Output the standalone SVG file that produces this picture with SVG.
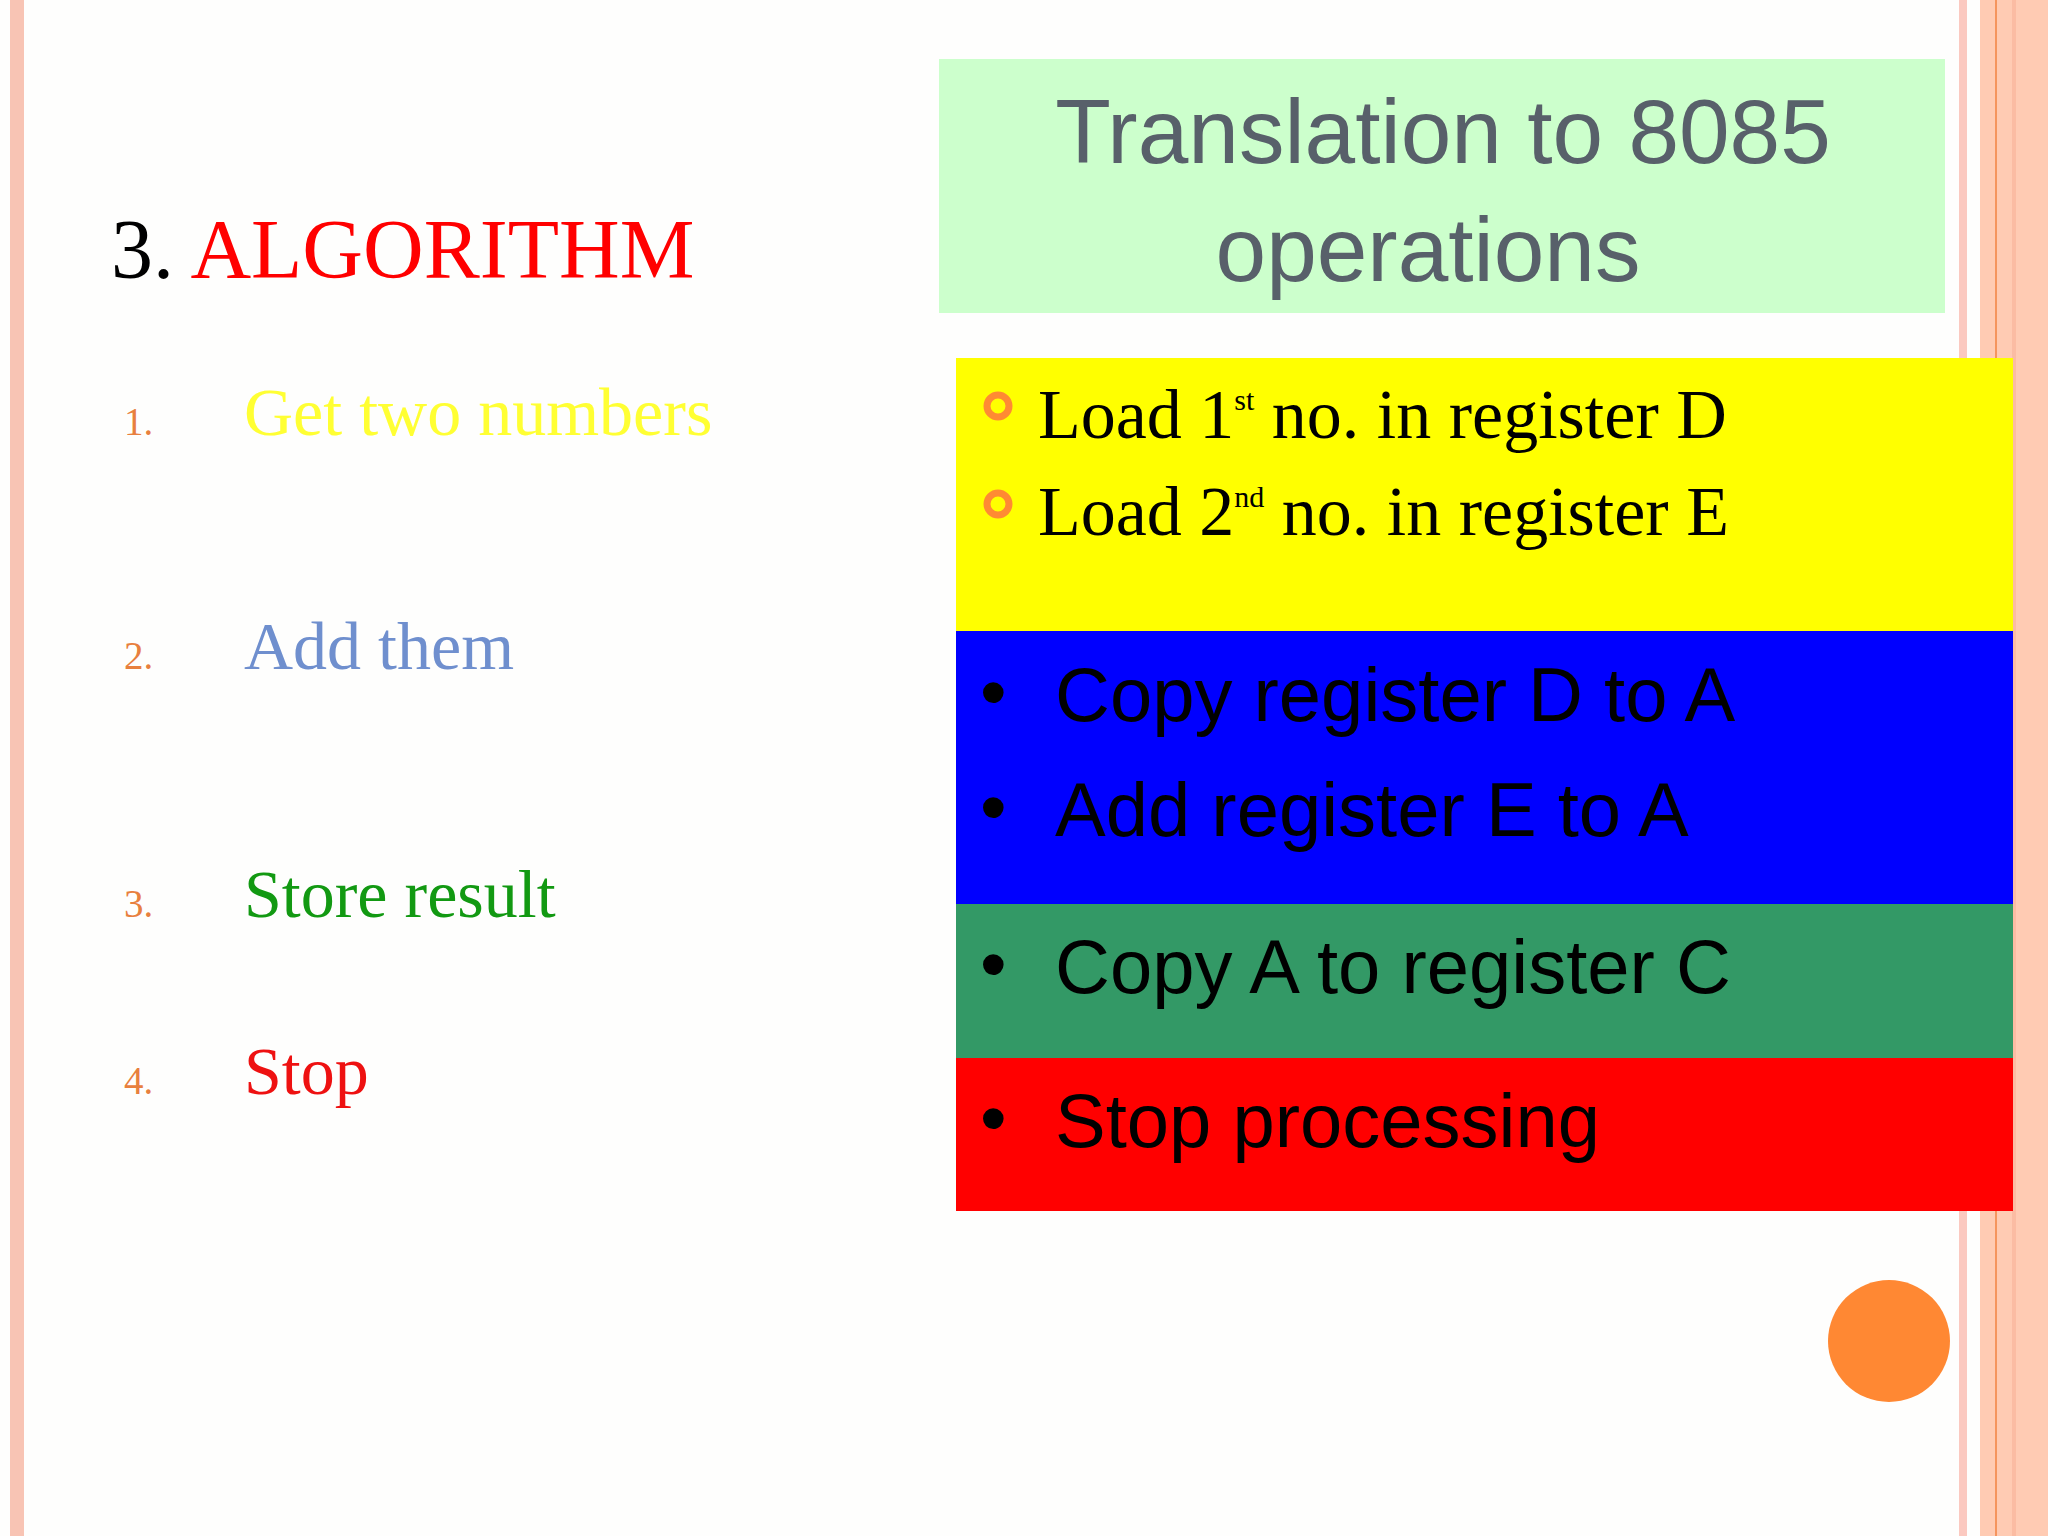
<svg xmlns="http://www.w3.org/2000/svg" width="2048" height="1536" viewBox="0 0 2048 1536">
<style>
.serif{font-family:"Liberation Serif","DejaVu Serif",serif}
.sans{font-family:"Liberation Sans",Arial,sans-serif}
.num{font-family:"Liberation Serif",serif;font-size:39px;fill:#e8803e}
.item{font-family:"Liberation Serif",serif;font-size:68px}
.ld{font-family:"Liberation Serif",serif;font-size:70px;fill:#000}
.bl{font-family:"Liberation Sans",Arial,sans-serif;font-size:76px;fill:#000}
</style>
<rect width="2048" height="1536" fill="#fefefd"/>
<rect x="10" y="0" width="14" height="1536" fill="#f8c4b4"/>
<rect x="1959" y="0" width="8" height="1536" fill="#fbc9c0"/>
<rect x="1980" y="0" width="68" height="1536" fill="#ffcbb3"/>
<rect x="1995" y="0" width="2" height="1536" fill="#f5955e"/>
<rect x="2012" y="0" width="4" height="1536" fill="#fbbca3"/>
<g id="title">
<rect x="939" y="59" width="1006" height="254" fill="#ccffcc"/>
<text class="sans" x="1443" y="163" font-size="91" fill="#58606a" text-anchor="middle">Translation to 8085</text>
<text class="sans" x="1428" y="281" font-size="91" fill="#58606a" text-anchor="middle">operations</text>
</g>
<g id="heading"><text class="serif" x="111" y="278" font-size="84" fill="#000">3. <tspan fill="#ff0000">ALGORITHM</tspan></text></g>
<g id="list">
<text class="num" x="124" y="435">1.</text><text class="item" x="244" y="435" fill="#ffff33">Get two numbers</text>
<text class="num" x="124" y="669">2.</text><text class="item" x="244" y="669" fill="#6f8fce">Add them</text>
<text class="num" x="124" y="917">3.</text><text class="item" x="244" y="917" fill="#129912">Store result</text>
<text class="num" x="124" y="1094">4.</text><text class="item" x="244" y="1094" fill="#ee1111">Stop</text>
</g>
<g id="yellow">
<rect x="956" y="358" width="1057" height="273" fill="#ffff00"/>
<circle cx="998" cy="406" r="11" fill="none" stroke="#ff8a33" stroke-width="7"/>
<circle cx="998" cy="504" r="11" fill="none" stroke="#ff8a33" stroke-width="7"/>
<text class="ld" x="1038" y="438">Load 1<tspan font-size="30" dy="-28">st</tspan><tspan dy="28"> no. in register D</tspan></text>
<text class="ld" x="1038" y="535">Load 2<tspan font-size="30" dy="-28">nd</tspan><tspan dy="28"> no. in register E</tspan></text>
</g>
<g id="blue">
<rect x="956" y="631" width="1057" height="273" fill="#0000ff"/>
<text class="bl" x="980" y="718" font-size="50">•</text>
<text class="bl" x="1055" y="721">Copy register D to A</text>
<text class="bl" x="980" y="833" font-size="50">•</text>
<text class="bl" x="1055" y="836">Add register E to A</text>
</g>
<g id="green">
<rect x="956" y="904" width="1057" height="154" fill="#339966"/>
<text class="bl" x="980" y="990" font-size="50">•</text>
<text class="bl" x="1055" y="993">Copy A to register C</text>
</g>
<g id="red">
<rect x="956" y="1058" width="1057" height="153" fill="#ff0000"/>
<text class="bl" x="980" y="1144" font-size="50">•</text>
<text class="bl" x="1055" y="1147">Stop processing</text>
</g>
<circle cx="1889" cy="1341" r="61" fill="#ff8833"/>
<g id="connectors"/>
</svg>
